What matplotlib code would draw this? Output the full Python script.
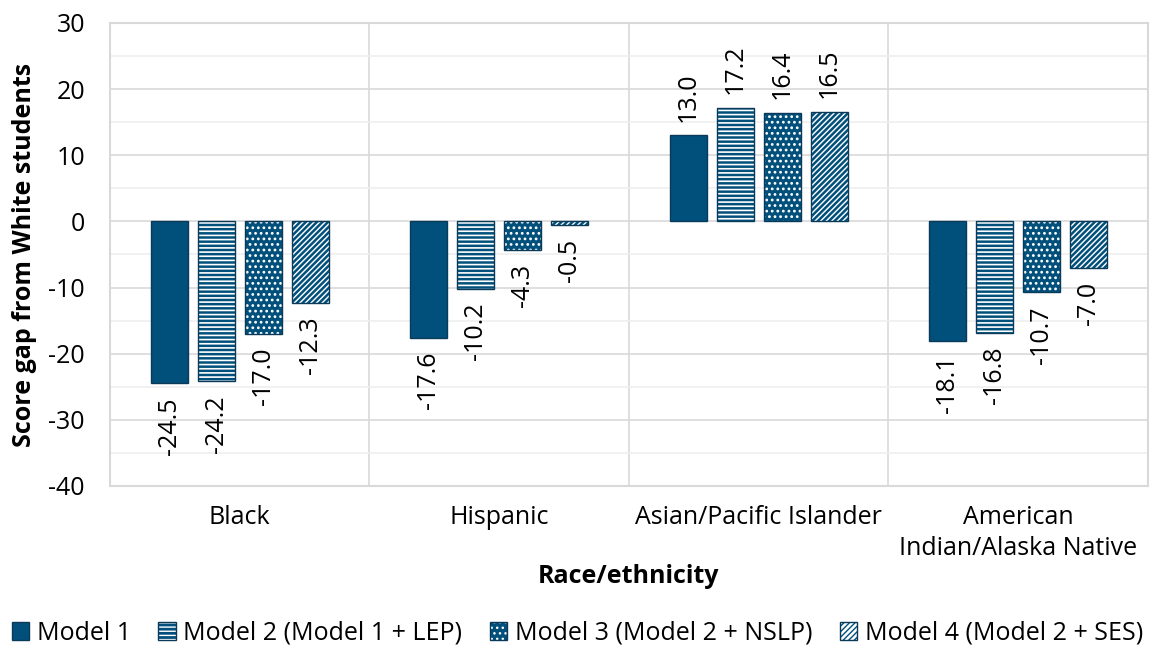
import numpy as np
import matplotlib
matplotlib.use("Agg")
import matplotlib.pyplot as plt
from matplotlib.ticker import MultipleLocator

plt.rcParams['font.family'] = ['Open Sans', 'DejaVu Sans']
plt.rcParams['axes.unicode_minus'] = False

groups = ['Black', 'Hispanic', 'Asian/Pacific Islander', 'American\nIndian/Alaska Native']
models = ['Model 1', 'Model 2 (Model 1 + LEP)', 'Model 3 (Model 2 + NSLP)', 'Model 4 (Model 2 + SES)']
m1 = [-24.5, -17.6, 13.0, -18.1]
m2 = [-24.2, -10.2, 17.2, -16.8]
m3 = [-17.0, -4.3, 16.4, -10.7]
m4 = [-12.3, -0.5, 16.5, -7.0]
series = [m1, m2, m3, m4]

blue = '#01507c'
edge = '#0b3a58'
# (facecolor, hatch, hatch colour, hatch linewidth)
styles = [
    (blue, None, blue, 1.0),
    (blue, '----', 'white', 1.2),
    (blue, '...', 'white', 1.2),
    ('white', '//////', blue, 1.8),
]

fig = plt.figure(figsize=(11.55, 6.46), dpi=100)
ax = fig.add_axes([0.0952, 0.2477, 0.8987, 0.7167])

x = np.arange(len(groups))
width = 0.143
step = 0.181
fs = 18
handles = []
for i, (vals, (fc, hatch, hc, hlw)) in enumerate(zip(series, styles)):
    pos = x + (i - 1.5) * step
    with plt.rc_context({'hatch.linewidth': hlw}):
        b = ax.bar(pos, vals, width, color=fc, hatch=hatch, edgecolor=hc, linewidth=0, zorder=3)
    o = ax.bar(pos, vals, width, fill=False, edgecolor=edge, linewidth=1.0, zorder=4)
    ax.bar_label(o, labels=[f'{v:.1f}' for v in vals], rotation=90, padding=10,
                 fontsize=fs, color='black')
    handles.append((b, o))

ax.set_xlim(-0.5, 3.5)
ax.set_ylim(-40, 30)
ax.yaxis.set_major_locator(MultipleLocator(10))
ax.yaxis.set_minor_locator(MultipleLocator(5))
ax.set_xticks(x)
ax.set_xticklabels(groups, fontsize=fs, linespacing=1.3)
ax.set_xticks([0.5, 1.5, 2.5], minor=True)
ax.tick_params(axis='both', which='both', length=0)
ax.tick_params(axis='y', labelsize=fs, pad=18)
ax.tick_params(axis='x', pad=14)
ax.grid(axis='y', which='major', color='#d9d9d9', linewidth=1.2, zorder=0)
ax.grid(axis='y', which='minor', color='#efefef', linewidth=1.2, zorder=0)
ax.grid(axis='x', which='minor', color='#d9d9d9', linewidth=1.2, zorder=0)
ax.set_axisbelow(True)
for s in ax.spines.values():
    s.set_color('#d9d9d9')
    s.set_linewidth(1.5)

ax.set_ylabel('Score gap from White students', fontsize=18, fontweight='bold', labelpad=8)
ax.set_xlabel('Race/ethnicity', fontsize=18, fontweight='bold', labelpad=2)

fig.legend(handles, models, loc='center', bbox_to_anchor=(0.5, 0.02), ncol=4,
           frameon=False, fontsize=fs, handlelength=0.7, handleheight=0.7,
           handletextpad=0.3, columnspacing=1.1, borderaxespad=0)

fig.savefig('out.png', dpi=100)
